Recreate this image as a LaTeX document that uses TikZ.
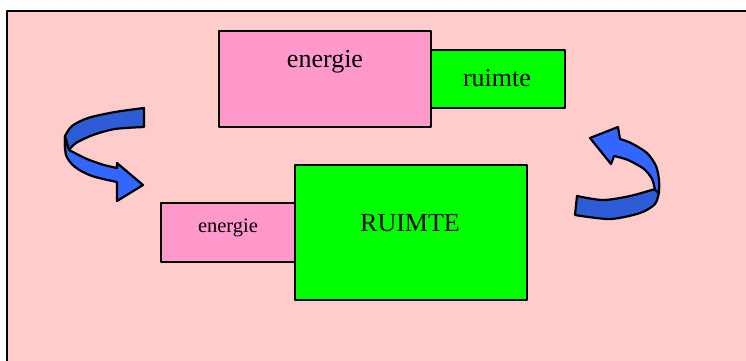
\documentclass[tikz,border=0pt]{standalone}
\usepackage{fontspec}
\setmainfont{Liberation Serif}
\usetikzlibrary{positioning}

\definecolor{bgpink}{HTML}{FFCCCC}
\definecolor{boxpink}{HTML}{FF99CC}
\definecolor{boxgreen}{HTML}{00FF00}
\definecolor{arrowlight}{RGB}{51,102,255}
\definecolor{arrowdark}{RGB}{46,92,214}

\begin{document}
\begin{tikzpicture}[x=1pt,y=-1pt,line join=round]
	\tikzstyle{box}=[draw=black,line width=1.3pt,inner sep=0pt,outer sep=0pt]
	\tikzstyle{big}=[font=\fontsize{26}{26}\selectfont,anchor=base,inner sep=0pt]
	\tikzstyle{small}=[font=\fontsize{20.5}{20.5}\selectfont,anchor=base,inner sep=0pt]
	\tikzstyle{ribbon}=[draw=black,line width=2.2pt]

	\useasboundingbox (0,0) rectangle (746,360);
	\clip (0,0) rectangle (746,360);
	\draw[fill=bgpink,line width=2pt] (7,11) rectangle (770,380);

	% upper pair
	\node[box,fill=boxpink,minimum width=212pt,minimum height=96pt] (E1) at (325,79) {};
	\node[box,fill=boxgreen,minimum width=134pt,minimum height=58pt] (R1) [right = 0pt of E1] {};
	\node[big] (E1t) at (325,67) {energie};
	\node[big] (R1t) at (497,86) {ruimte};

	% lower pair
	\node[box,fill=boxgreen,minimum width=232pt,minimum height=135pt] (R2) at (411,232.5) {};
	\node[box,fill=boxpink,minimum width=134pt,minimum height=59pt] (E2) [left = 0pt of R2] {};
	\node[big] (R2t) at (410,231.5) {RUIMTE};
	\node[small] (E2t) at (228,232.5) {energie};

	% left curved arrow
	\filldraw[ribbon,fill=arrowdark] plot[smooth] coordinates {(144,108) (115,112) (88,118) (72,126) (65,136)}
		-- (65,150) -- plot[smooth] coordinates {(69,150) (76,143) (93,135) (115,129) (144,127)} -- cycle;
	\filldraw[ribbon,fill=arrowlight] plot[smooth] coordinates {(65,136) (66,155) (75,167) (92,176) (117,182)}
		-- (117,201) -- (143,185) -- (117,163) -- (117,168)
		-- plot[smooth] coordinates {(117,168) (104,165) (87,159) (69,150)} -- cycle;

	% right curved arrow
	\filldraw[ribbon,fill=arrowdark] plot[smooth] coordinates {(577,196) (603,200) (630,196) (655,189)}
		-- (659,192) -- plot[smooth] coordinates {(659,192) (655,204) (640,213) (610,219) (575,215)} -- cycle;
	\filldraw[ribbon,fill=arrowlight] plot[smooth] coordinates {(659,193) (659,180) (656,166) (647,153) (631,143) (620,139)}
		-- (618,127) -- (590,138) -- (611,164) -- (614,156)
		-- plot[smooth] coordinates {(614,156) (628,160) (644,169) (652,179) (655,190)} -- cycle;
\end{tikzpicture}
\end{document}
